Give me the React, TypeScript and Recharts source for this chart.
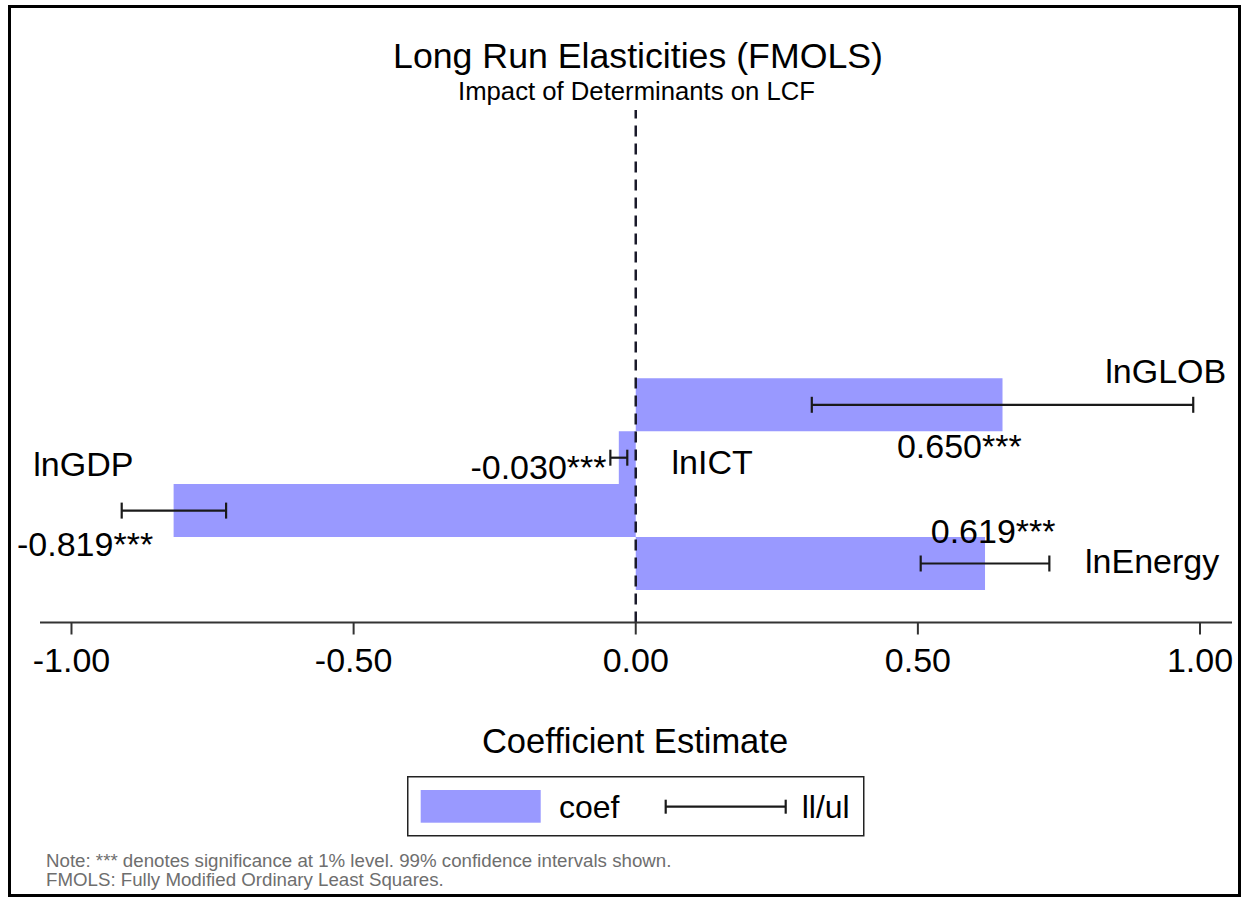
import React from 'react';
import {
  ComposedChart,
  Bar,
  XAxis,
  YAxis,
  ErrorBar,
  ReferenceLine,
  LabelList,
  Legend,
} from 'recharts';

// ---------- data ----------
const variables = ['lnGLOB', 'lnICT', 'lnGDP', 'lnEnergy'];
const coef = [0.65, -0.03, -0.819, 0.619];
const lowerLimit = [0.312, -0.045, -0.911, 0.505];
const upperLimit = [0.988, -0.015, -0.726, 0.733];
const significance = ['***', '***', '***', '***'];
const xTicks = [-1, -0.5, 0, 0.5, 1];

const chartData = variables.map((name, i) => ({
  name,
  coef: coef[i],
  err: [coef[i] - lowerLimit[i], upperLimit[i] - coef[i]],
  valueLabel: coef[i].toFixed(3) + significance[i],
}));

// ---------- styles ----------
const FONT = '"Liberation Sans", Arial, sans-serif';
const BAR_FILL = '#9999FF';
const W = 1242;
const H = 899;

// label placement (pixel offsets from bar end / bar centre)
const namePlacement: Record<string, { anchor: 'start' | 'end' | 'middle'; dx: number; dy: number }> = {
  lnGLOB: { anchor: 'end', dx: 223.7, dy: -21.7 },
  lnICT: { anchor: 'start', dx: 52.7, dy: 16 },
  lnGDP: { anchor: 'start', dx: -140.3, dy: -34.5 },
  lnEnergy: { anchor: 'start', dx: 100, dy: 9.3 },
};
const valuePlacement: Record<string, { anchor: 'start' | 'end' | 'middle'; dx: number; dy: number }> = {
  lnGLOB: { anchor: 'start', dx: -105.6, dy: 53.3 },
  lnICT: { anchor: 'end', dx: -12.3, dy: 21.4 },
  lnGDP: { anchor: 'start', dx: -156.6, dy: 45.5 },
  lnEnergy: { anchor: 'start', dx: -54.3, dy: -20.7 },
};

function makeLabel(kind: 'name' | 'value') {
  return (props: any) => {
    const vb = props.viewBox || props;
    const x = Number(vb.x);
    const y = Number(vb.y);
    const w = Number(vb.width);
    const h = Number(vb.height);
    let idx = typeof props.index === 'number' ? props.index : -1;
    if (idx < 0) {
      idx = chartData.findIndex((d) => d.name === props.value || d.valueLabel === props.value);
    }
    if (idx < 0) return null;
    const d = chartData[idx];
    const left = Math.min(x, x + w);
    const right = Math.max(x, x + w);
    const xe = d.coef < 0 ? left : right;
    const yc = Math.min(y, y + h) + Math.abs(h) / 2;
    const p = kind === 'name' ? namePlacement[d.name] : valuePlacement[d.name];
    const text = kind === 'name' ? d.name : d.valueLabel;
    return (
      <text
        key={`${kind}-${idx}`}
        x={xe + p.dx}
        y={yc + p.dy}
        textAnchor={p.anchor}
        fontSize={34}
        fontFamily={FONT}
        fill="#000"
      >
        {text}
      </text>
    );
  };
}

const LegendContent = () => (
  <svg width={458} height={61} style={{ display: 'block' }}>
    <rect x={0.75} y={0.75} width={456} height={59} fill="#fff" stroke="#222" strokeWidth={1.5} />
    <rect x={13.7} y={14} width={120} height={32.7} fill={BAR_FILL} />
    <text x={152} y={42} fontSize={32} fontFamily={FONT} fill="#000">
      coef
    </text>
    <line x1={258.7} x2={378.7} y1={30.7} y2={30.7} stroke="#1a1a1a" strokeWidth={2.2} />
    <line x1={258.7} x2={258.7} y1={23.7} y2={37.7} stroke="#1a1a1a" strokeWidth={2.2} />
    <line x1={378.7} x2={378.7} y1={23.7} y2={37.7} stroke="#1a1a1a" strokeWidth={2.2} />
    <text x={394.7} y={42} fontSize={32} fontFamily={FONT} fill="#000">
      ll/ul
    </text>
  </svg>
);

export default function App() {
  return (
    <div
      style={{
        position: 'absolute',
        left: 0,
        top: 0,
        width: W,
        height: H,
        background: '#fff',
        fontFamily: FONT,
      }}
    >
      <style>{`.recharts-errorBar line { stroke-width: 2.2px; stroke: #1a1a1a; }`}</style>
      <ComposedChart
        width={W}
        height={H}
        data={chartData}
        layout="vertical"
        margin={{ top: 110, right: 10, bottom: 216.5, left: 40 }}
        barCategoryGap={0}
        barGap={0}
      >
        <XAxis
          type="number"
          dataKey="coef"
          domain={[-1.0558, 1.0567]}
          allowDataOverflow
          ticks={xTicks}
          tickFormatter={(v: number) => v.toFixed(2)}
          height={60}
          tickSize={12}
          tickMargin={13}
          axisLine={{ stroke: '#333', strokeWidth: 2 }}
          tickLine={{ stroke: '#333', strokeWidth: 2 }}
          tick={{ fontSize: 34, fill: '#000', fontFamily: FONT }}
        />
        <YAxis
          type="category"
          dataKey="name"
          hide
          padding={{ top: 268.3, bottom: 32.6 }}
        />
        <Bar dataKey="coef" fill={BAR_FILL} isAnimationActive={false}>
          <ErrorBar
            dataKey="err"
            direction="x"
            width={8}
            stroke="#1a1a1a"
            strokeWidth={2.2}
            isAnimationActive={false}
          />
          <LabelList dataKey="name" content={makeLabel('name')} />
          <LabelList dataKey="valueLabel" content={makeLabel('value')} />
        </Bar>
        <ReferenceLine x={0} stroke="#1a1a2a" strokeWidth={2.5} strokeDasharray="11 7" />
        <Legend
          layout="horizontal"
          verticalAlign="middle"
          align="center"
          content={() => <LegendContent />}
          wrapperStyle={{ position: 'absolute', left: 407, top: 776, width: 458, height: 61 }}
        />
      </ComposedChart>
      <svg
        width={W}
        height={H}
        style={{ position: 'absolute', left: 0, top: 0, pointerEvents: 'none' }}
      >
        <rect x={9.5} y={6.5} width={1230} height={889} fill="none" stroke="#000" strokeWidth={3} />
        <text x={638} y={68.4} textAnchor="middle" fontSize={35.7} fontFamily={FONT} fill="#000">
          Long Run Elasticities (FMOLS)
        </text>
        <text x={636.5} y={100} textAnchor="middle" fontSize={25.7} fontFamily={FONT} fill="#000">
          Impact of Determinants on LCF
        </text>
        <text x={635} y={753} textAnchor="middle" fontSize={34.5} fontFamily={FONT} fill="#000">
          Coefficient Estimate
        </text>
        <text x={46} y={867} fontSize={18.7} fontFamily={FONT} fill="#6e6e6e">
          Note: *** denotes significance at 1% level. 99% confidence intervals shown.
        </text>
        <text x={46} y={886} fontSize={18.7} fontFamily={FONT} fill="#6e6e6e">
          FMOLS: Fully Modified Ordinary Least Squares.
        </text>
      </svg>
    </div>
  );
}
